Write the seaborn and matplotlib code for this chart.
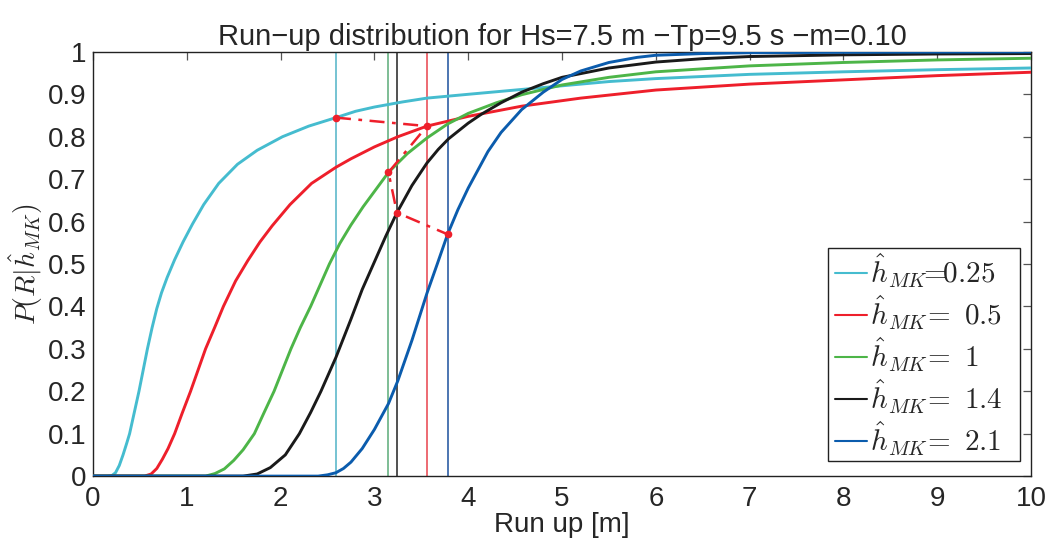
import numpy as np
import pandas as pd
import matplotlib
matplotlib.use("Agg")
import matplotlib.pyplot as plt
import matplotlib.patches as mpatches
import seaborn as sns

# ---- data ----
cyan_x = [0, 0.15, 0.2, 0.24, 0.28, 0.32, 0.36, 0.39, 0.44, 0.49, 0.535, 0.58, 0.63, 0.68, 0.73,
          0.79, 0.87, 0.96, 1.06, 1.18, 1.34, 1.54, 1.75, 2.02, 2.3, 2.59, 2.8, 3.0, 3.3, 3.56,
          4.0, 4.5, 5.0, 5.5, 6, 6.5, 7, 8, 9, 10]
cyan_y = [0, 0, 0.001, 0.008, 0.025, 0.05, 0.078, 0.1, 0.15, 0.2, 0.25, 0.3, 0.35, 0.395, 0.432,
          0.468, 0.51, 0.552, 0.594, 0.64, 0.69, 0.735, 0.768, 0.8, 0.825, 0.845, 0.86, 0.87, 0.882,
          0.891, 0.9, 0.91, 0.92, 0.93, 0.937, 0.942, 0.947, 0.953, 0.958, 0.962]

red_x = [0, 0.55, 0.62, 0.68, 0.74, 0.8, 0.87, 0.95, 1.04, 1.12, 1.2, 1.3, 1.39, 1.52, 1.65,
         1.78, 1.91, 2.1, 2.33, 2.59, 2.75, 3.0, 3.25, 3.56, 4.0, 4.57, 5.2, 6, 7, 8, 9, 10]
red_y = [0, 0, 0.005, 0.018, 0.04, 0.065, 0.1, 0.148, 0.2, 0.25, 0.3, 0.352, 0.4, 0.46, 0.508,
         0.552, 0.59, 0.64, 0.69, 0.728, 0.748, 0.776, 0.8, 0.825, 0.848, 0.872, 0.891, 0.91, 0.924,
         0.934, 0.944, 0.952]

green_x = [0, 1.2, 1.3, 1.4, 1.5, 1.6, 1.72, 1.82, 1.93, 2.02, 2.11, 2.21, 2.32, 2.42, 2.52,
           2.63, 2.75, 2.88, 3.0, 3.15, 3.35, 3.56, 3.78, 4.0, 4.3, 4.57, 5.0, 5.5, 6, 7, 8, 9, 10]
green_y = [0, 0, 0.006, 0.017, 0.037, 0.062, 0.1, 0.148, 0.2, 0.25, 0.3, 0.35, 0.4, 0.45, 0.5,
           0.548, 0.592, 0.635, 0.671, 0.716, 0.76, 0.797, 0.83, 0.855, 0.88, 0.899, 0.922, 0.94, 0.953,
           0.967, 0.975, 0.981, 0.985]

black_x = [0, 1.6, 1.75, 1.89, 2.05, 2.2, 2.32, 2.43, 2.59, 2.75, 2.87, 3.0, 3.12, 3.24, 3.4,
           3.56, 3.68, 3.79, 4.0, 4.14, 4.35, 4.57, 4.8, 5.0, 5.5, 6, 6.5, 7, 8, 9, 10]
black_y = [0, 0, 0.005, 0.02, 0.05, 0.1, 0.15, 0.2, 0.28, 0.37, 0.44, 0.505, 0.565, 0.621, 0.685,
           0.738, 0.77, 0.795, 0.832, 0.853, 0.88, 0.905, 0.925, 0.94, 0.962, 0.976, 0.984, 0.989,
           0.993, 0.995, 0.996]

blue_x = [0, 2.4, 2.5, 2.59, 2.67, 2.75, 2.87, 3.0, 3.15, 3.25, 3.4, 3.56, 3.67, 3.78, 3.89,
          4.0, 4.1, 4.21, 4.35, 4.57, 4.8, 5.0, 5.2, 5.5, 5.8, 6, 6.5, 7, 8, 10]
blue_y = [0, 0, 0.003, 0.008, 0.018, 0.033, 0.065, 0.11, 0.171, 0.225, 0.32, 0.431, 0.5, 0.57, 0.628,
          0.679, 0.72, 0.765, 0.81, 0.864, 0.905, 0.935, 0.955, 0.975, 0.987, 0.992, 0.996, 0.998,
          0.999, 1.0]

labels = [r'$\hat{h}_{MK}\!\!=\!\!0.25$', r'$\hat{h}_{MK}\!=\ 0.5$', r'$\hat{h}_{MK}\!=\ 1$',
          r'$\hat{h}_{MK}\!=\ 1.4$', r'$\hat{h}_{MK}\!=\ 2.1$']
curve_colors = ['#45bccf', '#ee1f2b', '#4db548', '#1a1a1a', '#0b5cad']
vline_colors = ['#4fb3c6', '#5aab78', '#222222', '#e8424c', '#1b4f9c']

# selected quantile points (red dash-dot path)
path_x = [2.59, 3.56, 3.15, 3.24, 3.78]
path_y = [0.845, 0.825, 0.716, 0.621, 0.57]
vline_x = [2.59, 3.15, 3.24, 3.56, 3.78]

xticks = list(range(0, 11))
yticks = [0, 0.1, 0.2, 0.3, 0.4, 0.5, 0.6, 0.7, 0.8, 0.9, 1]
ytick_labels = ['0', '0.1', '0.2', '0.3', '0.4', '0.5', '0.6', '0.7', '0.8', '0.9', '1']

title = 'Run\u2212up distribution for Hs=7.5 m \u2212Tp=9.5 s \u2212m=0.10'

# ---- plot ----
sns.set_style('white')
plt.rcParams['font.family'] = ['Liberation Sans', 'DejaVu Sans']
plt.rcParams['mathtext.fontset'] = 'cm'

fig = plt.figure(figsize=(10.51, 5.46), dpi=100)
ax = fig.add_axes([0.0885, 0.128, 0.8925, 0.777])

for vx, vc in zip(vline_x, vline_colors):
    ax.axvline(vx, color=vc, lw=1.1, zorder=1)

curves = [(cyan_x, cyan_y), (red_x, red_y), (green_x, green_y), (black_x, black_y), (blue_x, blue_y)]
for (cx, cy), col, lab in zip(curves, curve_colors, labels):
    df = pd.DataFrame({'x': cx, 'y': cy})
    sns.lineplot(data=df, x='x', y='y', color=col, lw=2.1, label=lab, ax=ax, zorder=3,
                 estimator=None, sort=False)
for ln in ax.get_lines():
    ln.set_solid_joinstyle('round')

ax.plot(path_x, path_y, color='#ee1f2b', lw=1.8, ls=(0, (6, 3, 1.5, 3)), marker='o', ms=4.5,
        zorder=4)

ax.set_xlim(0, 10)
ax.set_ylim(0, 1)
ax.set_xticks(xticks)
ax.set_xticklabels([str(t) for t in xticks])
ax.set_yticks(yticks)
ax.set_yticklabels(ytick_labels)
ax.tick_params(direction='in', top=True, right=True, length=6, width=0.9, color='#555555',
               labelsize=20, pad=5)
ax.tick_params(axis='x', pad=7)
for s in ax.spines.values():
    s.set_color('#222222')
    s.set_linewidth(1.0)

ax.set_xlabel('Run up [m]', fontsize=20, labelpad=0)
ax.set_ylabel(r'$P(R|\hat{h}_{MK})$', fontsize=20, labelpad=2)
ax.set_title(title, fontsize=21, pad=5)

leg = ax.legend(loc='lower right', bbox_to_anchor=(0.9735, 0.035), borderaxespad=0,
                fontsize=21, handlelength=1.1, handletextpad=0.1, labelspacing=0.13,
                borderpad=0.12, fancybox=False, frameon=True, framealpha=1)
leg.get_frame().set_visible(False)
leg.set_zorder(6)
for line in leg.get_lines():
    line.set_linewidth(1.5)

# legend box with wider right padding, as in the reference
fig.canvas.draw()
bb = leg.get_window_extent()
W, H = fig.bbox.width, fig.bbox.height
x0, x1 = bb.x0 - 4, bb.x1 + 14
rect = mpatches.Rectangle((x0 / W, bb.y0 / H), (x1 - x0) / W, bb.height / H,
                          transform=fig.transFigure, facecolor='white', edgecolor='#222222',
                          lw=1.0, zorder=5.5, clip_on=False)
ax.add_patch(rect)

fig.savefig('out.png', dpi=100)
